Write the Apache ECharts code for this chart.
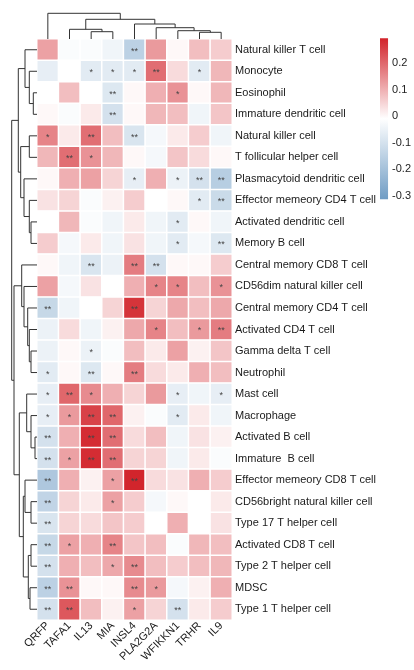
<!DOCTYPE html>
<html>
<head>
<meta charset="utf-8">
<script src="https://cdn.jsdelivr.net/npm/echarts@6/dist/echarts.min.js"></script>
<style>
html,body{margin:0;padding:0;background:#fff;}
#chart{width:414px;height:670px;}
</style>
</head>
<body>
<div id="chart"></div>
<script>
// ---- data ----
const colNames = ['QRFP','TAFA1','IL13','MIA','INSL4','PLA2G2A','WFIKKN1','TRHR','IL9'];
const rowNames = ['Natural killer T cell','Monocyte','Eosinophil','Immature dendritic cell','Natural killer cell',
  'T follicular helper cell','Plasmacytoid dendritic cell','Effector memeory CD4 T cell','Activated dendritic cell',
  'Memory B cell','Central memory CD8 T cell','CD56dim natural killer cell','Central memory CD4 T cell',
  'Activated CD4 T cell','Gamma delta T cell','Neutrophil','Mast cell','Macrophage','Activated B cell',
  'Immature  B cell','Effector memeory CD8 T cell','CD56bright natural killer cell','Type 17 T helper cell',
  'Activated CD8 T cell','Type 2 T helper cell','MDSC','Type 1 T helper cell'];

// correlation values, one array per gene (rows in rowNames order)
const QRFP    = [0.12,-0.06,-0.01,0.00,0.16,0.09,0.00,0.03,-0.01,0.06,0.00,0.12,-0.13,-0.05,-0.05,-0.07,-0.06,-0.06,-0.10,-0.10,-0.18,-0.14,-0.09,-0.13,-0.10,-0.15,-0.10];
const TAFA1   = [-0.02,-0.01,0.08,-0.02,0.02,0.19,0.10,0.05,0.09,-0.03,-0.04,-0.03,-0.04,0.04,0.00,0.00,0.20,0.13,0.10,0.12,0.10,0.05,0.05,0.12,0.10,0.14,0.22];
const IL13    = [-0.02,-0.07,-0.01,0.02,0.19,0.14,0.12,-0.02,-0.02,0.02,-0.09,0.03,-0.01,-0.04,-0.05,-0.08,0.15,0.25,0.28,0.28,0.01,0.02,0.04,0.10,0.08,0.00,0.08];
const MIA     = [-0.04,-0.07,-0.08,-0.10,0.08,0.09,0.05,0.01,-0.04,-0.04,-0.05,-0.01,0.05,0.01,-0.02,0.00,0.10,0.20,0.19,0.19,0.12,0.12,0.07,0.16,0.11,0.00,0.01];
const INSL4   = [-0.15,-0.07,0.00,0.00,-0.09,0.00,-0.06,0.06,0.02,0.03,0.17,0.10,0.27,0.11,0.08,0.17,0.05,0.01,0.04,0.05,0.29,0.06,0.06,0.07,0.15,0.15,0.12];
const PLA2G2A = [0.13,0.19,0.10,0.09,-0.03,-0.03,0.10,-0.01,-0.04,-0.04,-0.10,0.16,0.05,0.16,0.02,0.04,0.13,-0.02,0.08,0.05,0.04,-0.03,-0.01,0.08,0.08,0.13,0.05];
const WFIKKN1 = [0.00,0.04,0.14,0.08,0.02,0.07,-0.05,0.00,-0.07,-0.07,0.00,0.16,0.11,0.08,0.12,0.02,-0.06,-0.07,-0.04,-0.04,0.03,0.00,0.10,-0.02,0.06,-0.03,-0.10];
const TRHR    = [0.08,-0.07,0.00,-0.04,0.06,0.04,-0.10,-0.07,0.00,-0.03,0.00,0.08,0.08,0.13,0.01,0.10,-0.04,0.02,0.03,0.02,0.10,-0.01,-0.01,0.09,0.08,0.01,0.02];
const IL9     = [0.06,0.09,0.09,0.07,-0.04,0.00,-0.16,-0.12,-0.04,-0.08,0.06,0.14,0.11,0.17,0.07,0.08,-0.06,-0.04,0.01,-0.02,0.06,0.02,0.03,0.08,0.09,0.10,0.06];

// significance: 0 none, 1 "*", 2 "**"
const sigQRFP    = [0,0,0,0,1,0,0,0,0,0,0,0,2,0,0,1,1,1,2,2,2,2,2,2,2,2,2];
const sigTAFA1   = [0,0,0,0,0,2,0,0,0,0,0,0,0,0,0,0,2,1,0,1,0,0,0,1,0,2,2];
const sigIL13    = [0,1,0,0,2,1,0,0,0,0,2,0,0,0,1,2,1,2,2,2,0,0,0,0,0,0,0];
const sigMIA     = [0,1,2,2,0,0,0,0,0,0,0,0,0,0,0,0,0,2,2,2,1,1,0,2,1,0,0];
const sigINSL4   = [2,1,0,0,2,0,1,0,0,0,2,0,2,0,0,2,0,0,0,0,2,0,0,0,2,2,1];
const sigPLA2G2A = [0,2,0,0,0,0,0,0,0,0,2,1,0,1,0,0,0,0,0,0,0,0,0,0,0,1,0];
const sigWFIKKN1 = [0,0,1,0,0,0,1,0,1,1,0,1,0,0,0,0,1,1,0,0,0,0,0,0,0,0,2];
const sigTRHR    = [0,1,0,0,0,0,2,1,0,0,0,0,0,1,0,0,0,0,0,0,0,0,0,0,0,0,0];
const sigIL9     = [0,0,0,0,0,0,2,2,0,2,0,1,0,2,0,0,1,0,0,0,0,0,0,0,0,0,0];

// colour scale range and tick labels
const scaleMin = -0.312, scaleMax = 0.293;
const scaleTicks = [-0.3,-0.2,-0.1,0,0.1,0.2];

// dendrogram merges: [a, b, height]; ids < n are leaves, id n+k is merge k
const rowMerges = [
  [2,3,3.7],[1,27,7.7],[0,28,12],[4,5,7.7],[8,9,6],[7,31,7.7],[6,32,13],[30,33,16.3],[29,34,18.7],
  [14,15,6],[13,36,7.7],[12,37,9.3],[11,38,13],[10,39,15.3],
  [18,19,2],[17,41,6],[16,42,10.3],
  [21,22,6],[20,44,12],[23,24,6],[25,26,7],[46,47,8.7],[45,48,13.7],
  [43,49,17.7],[40,50,23],[35,51,25.3]
];
const colMerges = [
  [2,3,7.3],[7,8,6.7],[1,9,9.7],[6,10,8.3],[5,12,11.3],[4,13,15],[11,14,19.7],[0,15,25.7]
];

// ---- build ----
const COLORS = ['#6f9cc4', '#ffffff', '#d2232a'];
const valueCols = [QRFP,TAFA1,IL13,MIA,INSL4,PLA2G2A,WFIKKN1,TRHR,IL9];
const sigCols = [sigQRFP,sigTAFA1,sigIL13,sigMIA,sigINSL4,sigPLA2G2A,sigWFIKKN1,sigTRHR,sigIL9];
const heatData = [];
valueCols.forEach((col, c) => col.forEach((v, r) => heatData.push([c, r, v, sigCols[c][r]])));

function dendro(n, merges, horizontal) {
  const pos = [], hgt = [];
  for (let i = 0; i < n; i++) { pos[i] = i; hgt[i] = 0; }
  const out = [];
  merges.forEach((m, k) => {
    const [a, b, h] = m;
    const id = n + k;
    pos[id] = (pos[a] + pos[b]) / 2; hgt[id] = h;
    const pts = [[pos[a], hgt[a]], [pos[a], h], [pos[b], h], [pos[b], hgt[b]]];
    out.push({ coords: horizontal ? pts.map(p => [p[1], p[0]]) : pts });
  });
  return out;
}

const FONT = 'Liberation Sans, Arial, sans-serif';
const chart = echarts.init(document.getElementById('chart'));
const gridTop = 39, gridH = 581;
chart.setOption({
  animation: false,
  textStyle: { fontFamily: FONT },
  grid: [
    { left: 37, top: gridTop, width: 195, height: gridH },
    { left: 10, top: gridTop, width: 27, height: gridH },
    { left: 37, top: 12, width: 195, height: 27 },
    { left: 380, top: 36.4, width: 12, height: 159.6 }
  ],
  xAxis: [
    { type: 'category', gridIndex: 0, data: colNames, position: 'bottom',
      axisLine: { show: false }, axisTick: { show: false }, splitLine: { show: false },
      axisLabel: { rotate: 45, margin: 4, fontSize: 11, color: '#1a1a1a', fontFamily: FONT, interval: 0 } },
    { type: 'value', gridIndex: 1, min: 0, max: 27, inverse: true, show: false },
    { type: 'value', gridIndex: 2, min: -0.5, max: 8.5, show: false },
    { type: 'value', gridIndex: 3, min: 0, max: 1, show: false }
  ],
  yAxis: [
    { type: 'category', gridIndex: 0, data: rowNames, inverse: true, position: 'right',
      axisLine: { show: false }, axisTick: { show: false }, splitLine: { show: false },
      axisLabel: { margin: 3, fontSize: 11, color: '#1a1a1a', fontFamily: FONT, interval: 0 } },
    { type: 'value', gridIndex: 1, min: -0.5, max: 26.5, inverse: true, show: false },
    { type: 'value', gridIndex: 2, min: 0, max: 27, show: false },
    { type: 'value', gridIndex: 3, min: -0.3, max: 0.3, interval: 0.1, position: 'right',
      axisLine: { show: false }, axisTick: { show: false }, splitLine: { show: false },
      axisLabel: { margin: 4, fontSize: 11, color: '#222', fontFamily: FONT,
        formatter: v => { const r = Math.round(v * 10) / 10; return scaleTicks.indexOf(r) >= 0 ? String(r) : ''; } } }
  ],
  visualMap: {
    type: 'continuous', seriesIndex: 0, dimension: 2, show: false,
    min: scaleMin, max: scaleMax,
    inRange: { color: COLORS }
  },
  series: [
    { type: 'heatmap', xAxisIndex: 0, yAxisIndex: 0, data: heatData,
      itemStyle: { borderColor: '#ffffff', borderWidth: 1.5 },
      emphasis: { disabled: true },
      label: { show: true, fontSize: 9, color: '#444', offset: [0, 1.5],
        formatter: p => ['', '*', '**'][p.data[3]] } },
    { type: 'lines', coordinateSystem: 'cartesian2d', xAxisIndex: 1, yAxisIndex: 1, polyline: true,
      data: dendro(rowNames.length, rowMerges, true), lineStyle: { color: '#333', width: 1, opacity: 1 }, silent: true },
    { type: 'lines', coordinateSystem: 'cartesian2d', xAxisIndex: 2, yAxisIndex: 2, polyline: true,
      data: dendro(colNames.length, colMerges, false), lineStyle: { color: '#333', width: 1, opacity: 1 }, silent: true },
    { type: 'custom', xAxisIndex: 3, yAxisIndex: 3, silent: true, clip: false,
      data: [[0, scaleMin, 1, scaleMax]],
      renderItem: (params, api) => {
        const p0 = api.coord([api.value(0), api.value(3)]);
        const p1 = api.coord([api.value(2), api.value(1)]);
        return { type: 'rect', shape: { x: p0[0], y: p0[1], width: p1[0] - p0[0], height: p1[1] - p0[1] },
          style: { fill: new echarts.graphic.LinearGradient(0, 0, 0, 1, [
            { offset: 0, color: COLORS[2] }, { offset: 0.5, color: COLORS[1] }, { offset: 1, color: COLORS[0] }]) } };
      } }
  ]
});
</script>
</body>
</html>
